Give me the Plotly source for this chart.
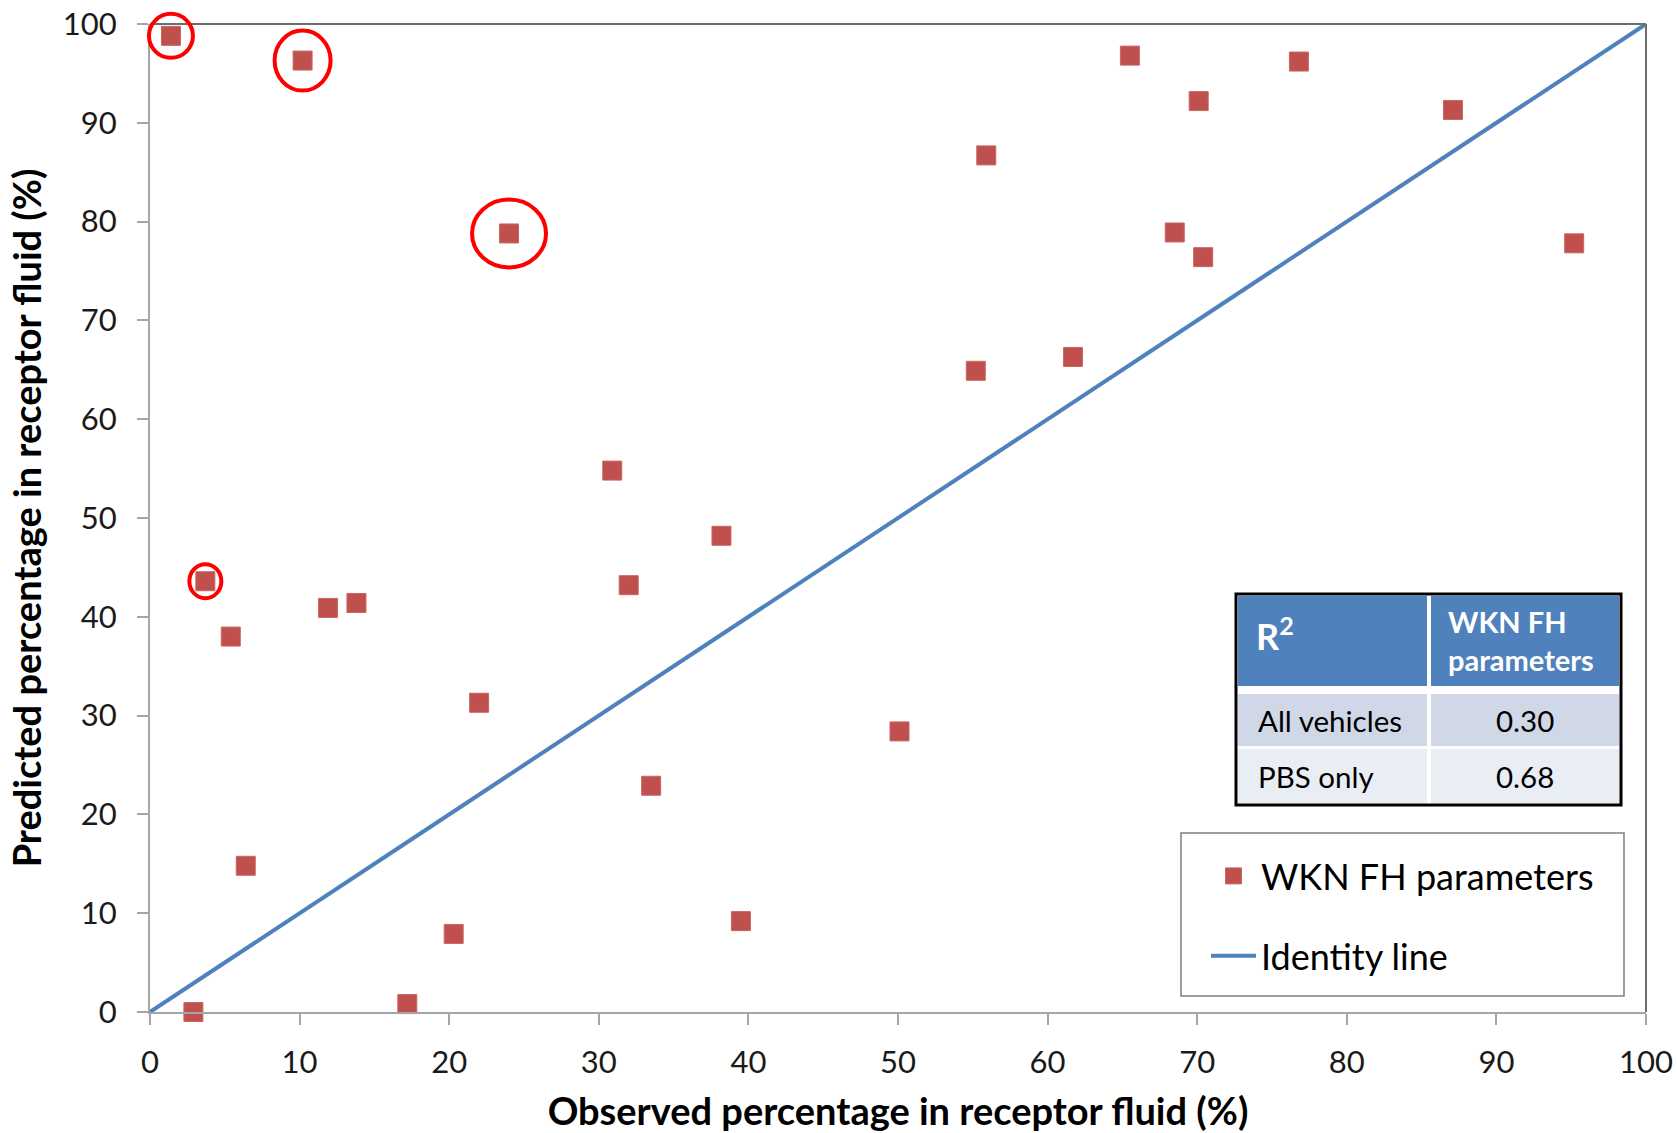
import plotly.graph_objects as go

# ---- data ----
observed = [1.4, 10.2, 24.0, 3.7, 5.4, 6.4, 2.9, 11.9, 13.8, 22.0, 17.2, 20.3, 30.9, 32.0,
            33.5, 38.2, 39.5, 50.1, 55.2, 55.9, 61.7, 65.5, 68.5, 70.1, 70.4, 76.8, 87.1, 95.2]
predicted = [98.8, 96.3, 78.8, 43.6, 38.0, 14.8, 0.0, 40.9, 41.4, 31.3, 0.8, 7.9, 54.8, 43.2,
             22.9, 48.2, 9.2, 28.4, 64.9, 86.7, 66.3, 96.8, 78.9, 92.2, 76.4, 96.2, 91.3, 77.8]
highlighted = [0, 1, 2, 3]              # points circled in red
circle_radii = [(22, 22), (28, 30), (37, 34), (16, 17)]   # px (rx, ry)
identity_x = [0, 100]
identity_y = [0, 100]
x_ticks = list(range(0, 101, 10))
y_ticks = list(range(0, 101, 10))
table_header = ["R<sup>2</sup>", "WKN FH<br>parameters"]
table_rows = ["All vehicles", "PBS only"]
table_values = ["0.30", "0.68"]
series_name = "WKN FH parameters"
line_name = "Identity line"

FONT = "Lato"
RED = "#C0504D"
BLUE = "#4F81BD"

fig = go.Figure()
fig.add_trace(go.Scatter(
    x=observed, y=predicted, mode="markers", name=series_name,
    marker=dict(symbol="square", size=19, color=RED, line=dict(color="#C86663", width=1)),
    cliponaxis=False, legendgroup="a"))
fig.add_trace(go.Scatter(
    x=identity_x, y=identity_y, mode="lines", name=line_name,
    line=dict(color=BLUE, width=4), legendgroup="b"))

W, H = 1677, 1133
ml, mr, mt, mb = 150, 31, 24, 121
pw, ph = W - ml - mr, H - mt - mb

def px_x(p):
    return (p - ml) / pw

def px_y(p):
    return (H - mb - p) / ph

shapes = []
# top & right border (darker)
shapes.append(dict(type="line", xref="paper", yref="paper", x0=0, x1=1, y0=1, y1=1,
                   line=dict(color="#6E6E6E", width=2)))
shapes.append(dict(type="line", xref="paper", yref="paper", x0=1, x1=1, y0=0, y1=1,
                   line=dict(color="#6E6E6E", width=2)))
# red circles around highlighted points
for i, (rx, ry) in zip(highlighted, circle_radii):
    shapes.append(dict(type="circle", xref="paper", yref="paper",
                       xsizemode="pixel", ysizemode="pixel",
                       xanchor=observed[i] / 100, yanchor=predicted[i] / 100,
                       x0=-rx, x1=rx, y0=-ry, y1=ry,
                       line=dict(color="#FF0000", width=4)))

# legend box
shapes.append(dict(type="rect", xref="paper", yref="paper",
                   x0=px_x(1181), x1=px_x(1624), y0=px_y(996), y1=px_y(833),
                   line=dict(color="#7F7F7F", width=1.5), fillcolor="white", layer="below"))

# table
tl, tr, tt, tb = 1236, 1621, 594, 805
tdiv = 1429
shapes.append(dict(type="rect", xref="paper", yref="paper",
                   x0=px_x(tl), x1=px_x(tr), y0=px_y(tb), y1=px_y(tt),
                   line=dict(color="black", width=3), fillcolor="white", layer="above"))
rows_y = [(596, 686, BLUE), (694, 746, "#D0D8E8"), (749, 803, "#E9EDF4")]
for (y0, y1, col) in rows_y:
    for (x0, x1) in [(tl + 2, tdiv - 2), (tdiv + 2, tr - 2)]:
        shapes.append(dict(type="rect", xref="paper", yref="paper",
                           x0=px_x(x0), x1=px_x(x1), y0=px_y(y1), y1=px_y(y0),
                           line=dict(width=0), fillcolor=col, layer="above"))

annotations = []
annotations.append(dict(text="<b>" + table_header[0] + "</b>", xref="paper", yref="paper",
                        x=px_x(1254), y=px_y(634), xanchor="left", yanchor="middle",
                        showarrow=False, font=dict(family=FONT, size=36, color="white")))
annotations.append(dict(text="<b>" + table_header[1] + "</b>", xref="paper", yref="paper",
                        x=px_x(1446), y=px_y(640), xanchor="left", yanchor="middle",
                        align="left", showarrow=False,
                        font=dict(family=FONT, size=29, color="white")))
for k, (lab, val) in enumerate(zip(table_rows, table_values)):
    yc = [720, 776][k]
    annotations.append(dict(text=lab, xref="paper", yref="paper", x=px_x(1256), y=px_y(yc),
                            xanchor="left", yanchor="middle", showarrow=False,
                            font=dict(family=FONT, size=29.5, color="black")))
    annotations.append(dict(text=val, xref="paper", yref="paper", x=px_x((tdiv + tr) / 2),
                            y=px_y(yc), xanchor="center", yanchor="middle", showarrow=False,
                            font=dict(family=FONT, size=29.5, color="black")))

fig.update_layout(
    width=W, height=H,
    margin=dict(l=ml, r=mr, t=mt, b=mb, autoexpand=False),
    paper_bgcolor="white", plot_bgcolor="white",
    font=dict(family=FONT, color="#1A1A1A"),
    shapes=shapes, annotations=annotations,
    legend=dict(x=px_x(1206), y=px_y(846), xanchor="left", yanchor="top",
                bgcolor="rgba(0,0,0,0)", borderwidth=0,
                font=dict(family=FONT, size=36, color="black"),
                tracegroupgap=30, itemsizing="trace", itemwidth=45),
    showlegend=True,
)
fig.update_xaxes(range=[0, 100], tickvals=x_ticks, showgrid=False, zeroline=False,
                 showline=True, linecolor="#A6A6A6", linewidth=2,
                 ticks="outside", ticklen=11, tickcolor="#A6A6A6", tickwidth=2,
                 tickfont=dict(family=FONT, size=31, color="#1A1A1A"),
                 ticklabelstandoff=11,
                 title=dict(text="<b>Observed percentage in receptor fluid (%)</b>",
                            font=dict(family=FONT, size=38, color="black"), standoff=20))
fig.update_yaxes(range=[0, 100], tickvals=y_ticks, showgrid=False, zeroline=False,
                 showline=True, linecolor="#A6A6A6", linewidth=2,
                 ticks="outside", ticklen=11, tickcolor="#A6A6A6", tickwidth=2,
                 tickfont=dict(family=FONT, size=31, color="#1A1A1A"),
                 ticklabelstandoff=14,
                 title=dict(text="<b>Predicted percentage in receptor fluid (%)</b>",
                            font=dict(family=FONT, size=38, color="black"), standoff=10))

fig.write_html("out.html")
